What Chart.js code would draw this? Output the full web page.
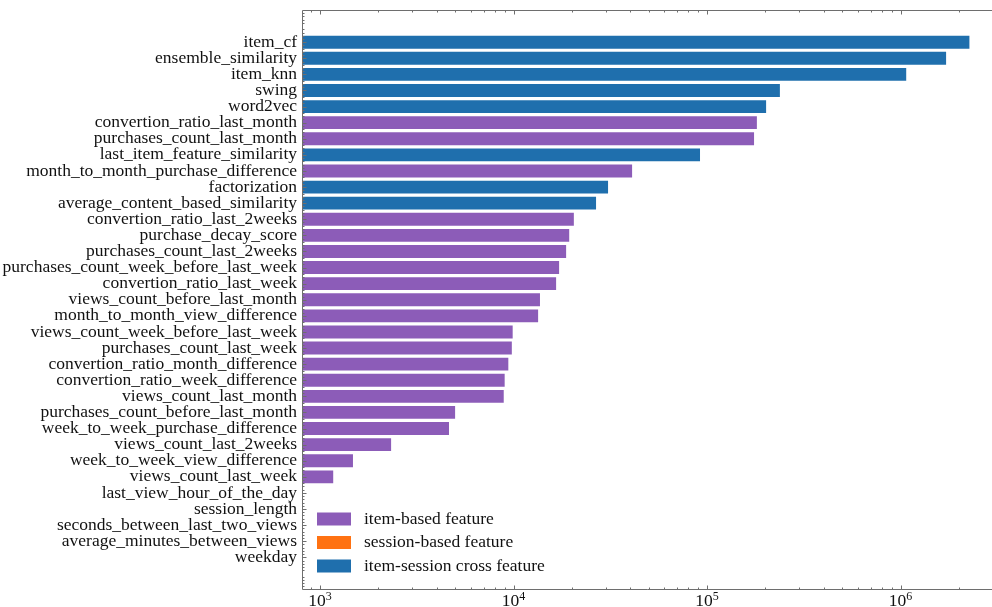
<!DOCTYPE html>
<html>
<head>
<meta charset="utf-8">
<script src="https://cdn.jsdelivr.net/npm/chart.js@4"></script>
<style>
  html, body { margin: 0; padding: 0; background: #fff; }
  canvas { display: block; }
</style>
</head>
<body>
<canvas id="importance" width="992" height="607"></canvas>
<script>
// features, listed top to bottom
const featureNames = [
    'item_cf', 'ensemble_similarity', 'item_knn', 'swing', 'word2vec',
    'convertion_ratio_last_month', 'purchases_count_last_month', 'last_item_feature_similarity',
    'month_to_month_purchase_difference', 'factorization', 'average_content_based_similarity',
    'convertion_ratio_last_2weeks', 'purchase_decay_score', 'purchases_count_last_2weeks',
    'purchases_count_week_before_last_week', 'convertion_ratio_last_week', 'views_count_before_last_month',
    'month_to_month_view_difference', 'views_count_week_before_last_week', 'purchases_count_last_week',
    'convertion_ratio_month_difference', 'convertion_ratio_week_difference', 'views_count_last_month',
    'purchases_count_before_last_month', 'week_to_week_purchase_difference', 'views_count_last_2weeks',
    'week_to_week_view_difference', 'views_count_last_week', 'last_view_hour_of_the_day',
    'session_length', 'seconds_between_last_two_views', 'average_minutes_between_views', 'weekday'
]
const importance = [
    2270000, 1720000, 1070000, 238000, 202000,
    181000, 175000, 92000,
    41000, 30800, 26700,
    20500, 19400, 18700,
    17200, 16600, 13700,
    13400, 9900, 9800,
    9400, 9000, 8900,
    4990, 4640, 2330,
    1480, 1170, 0,
    0, 0, 0, 0
]
// i = item-based, s = session-based, c = item-session cross
const featureGroup = [
    'c', 'c', 'c', 'c', 'c',
    'i', 'i', 'c',
    'i', 'c', 'c',
    'i', 'i', 'i',
    'i', 'i', 'i',
    'i', 'i', 'i',
    'i', 'i', 'i',
    'i', 'i', 'i',
    'i', 'i', 's',
    's', 's', 's', 's'
]
const groupKeys = ['i', 's', 'c']
const groupNames = ['item-based feature', 'session-based feature', 'item-session cross feature']
const groupColors = ['#8c5cb8', '#ff7212', '#1f6fad']
const xTicks = [1e3, 1e4, 1e5, 1e6]

const serif = '"Liberation Serif", "DejaVu Serif", serif'
const fontSize = 17.5
const padRows = 2

// two blank rows above and below, like the axis margins
const blanks = new Array(padRows).fill('')
const labels = [...blanks, ...featureNames, ...blanks]

const datasets = groupKeys.map((key, g) => ({
    label: groupNames[g],
    backgroundColor: groupColors[g],
    borderWidth: 0,
    barPercentage: 0.8,
    categoryPercentage: 1.0,
    grouped: false,
    data: labels.map((name, i) => {
        const f = i - padRows
        if (f < 0 || f >= featureNames.length) return null
        return featureGroup[f] === key ? importance[f] : null
    })
}))

function line(ctx, x1, y1, x2, y2) {
    ctx.beginPath()
    ctx.moveTo(x1, y1)
    ctx.lineTo(x2, y2)
    ctx.stroke()
}

// spines, inward ticks and the 10^n labels
const frameTicks = {
    id: 'frameTicks',
    afterDatasetsDraw(chart) {
        const {ctx, chartArea: a, scales: {x, y}} = chart
        ctx.save()
        ctx.strokeStyle = '#6e6e6e'
        ctx.lineWidth = 1
        const left = Math.round(a.left) + 0.5
        const top = Math.round(a.top) + 0.5
        const bottom = Math.round(a.bottom) - 0.5
        line(ctx, left, top, left, bottom)
        line(ctx, left, top, a.right, top)
        line(ctx, left, bottom, a.right, bottom)

        for (let e = 2; e <= 6; e++) {
            for (let m = 1; m <= 9; m++) {
                const v = m * Math.pow(10, e)
                if (v < x.min || v > x.max) continue
                const px = Math.round(x.getPixelForValue(v)) + 0.5
                const len = m === 1 ? 4 : 2
                line(ctx, px, bottom, px, bottom - len)
                line(ctx, px, top, px, top + len)
            }
        }

        const step = y.getPixelForValue(1) - y.getPixelForValue(0)
        for (let i = 0; i < labels.length; i++) {
            const py = y.getPixelForValue(i)
            if (labels[i] !== '') line(ctx, left, Math.round(py) + 0.5, left + 4, Math.round(py) + 0.5)
            for (let k = 1; k < 5; k++) {
                const my = Math.round(py + k * step / 5) + 0.5
                if (my > bottom || my < top) continue
                line(ctx, left, my, left + 2, my)
            }
        }

        // decade labels with a raised exponent
        ctx.fillStyle = '#111'
        ctx.textBaseline = 'alphabetic'
        ctx.textAlign = 'left'
        for (const v of xTicks) {
            const base = '10'
            const exp = String(Math.round(Math.log10(v)))
            ctx.font = fontSize + 'px ' + serif
            const wb = ctx.measureText(base).width
            ctx.font = '12px ' + serif
            const we = ctx.measureText(exp).width
            const x0 = x.getPixelForValue(v) - (wb + we) / 2
            ctx.font = fontSize + 'px ' + serif
            ctx.fillText(base, x0, a.bottom + 16)
            ctx.font = '12px ' + serif
            ctx.fillText(exp, x0 + wb, a.bottom + 10)
        }
        ctx.restore()
    }
}

// legend in the lower left corner of the plot
const innerLegend = {
    id: 'innerLegend',
    afterDraw(chart) {
        const {ctx, chartArea: a} = chart
        ctx.save()
        ctx.font = fontSize + 'px ' + serif
        ctx.textBaseline = 'middle'
        ctx.textAlign = 'left'
        const rowGap = 23.5
        chart.data.datasets.forEach((ds, g) => {
            const cy = a.bottom - 23.5 - (chart.data.datasets.length - 1 - g) * rowGap
            ctx.fillStyle = ds.backgroundColor
            ctx.fillRect(a.left + 15, cy - 6.5, 34, 13)
            ctx.fillStyle = '#111'
            ctx.fillText(ds.label, a.left + 62, cy)
        })
        ctx.restore()
    }
}

new Chart(document.getElementById('importance'), {
    type: 'bar',
    data: {labels: labels, datasets: datasets},
    plugins: [frameTicks, innerLegend],
    options: {
        indexAxis: 'y',
        responsive: false,
        animation: false,
        devicePixelRatio: 1,
        layout: {padding: {top: 10, right: 0, left: 0, bottom: 0}},
        plugins: {
            legend: {display: false},
            tooltip: {enabled: false}
        },
        scales: {
            x: {
                type: 'logarithmic',
                position: 'bottom',
                min: 807,
                max: 2970000,
                grid: {display: false, drawTicks: false},
                border: {display: false},
                afterBuildTicks: scale => { scale.ticks = xTicks.map(v => ({value: v})) },
                afterFit: scale => {
                    scale.height = 17.5
                    scale.paddingLeft = 0
                    scale.paddingRight = 0
                },
                ticks: {display: false}
            },
            y: {
                type: 'category',
                offset: false,
                grid: {display: false, drawTicks: false},
                border: {display: false},
                afterFit: scale => {
                    scale.width = 302
                    scale.paddingTop = 0
                    scale.paddingBottom = 0
                },
                ticks: {
                    autoSkip: false,
                    padding: 5,
                    color: '#111',
                    font: {family: serif, size: fontSize}
                }
            }
        }
    }
})
</script>
</body>
</html>
